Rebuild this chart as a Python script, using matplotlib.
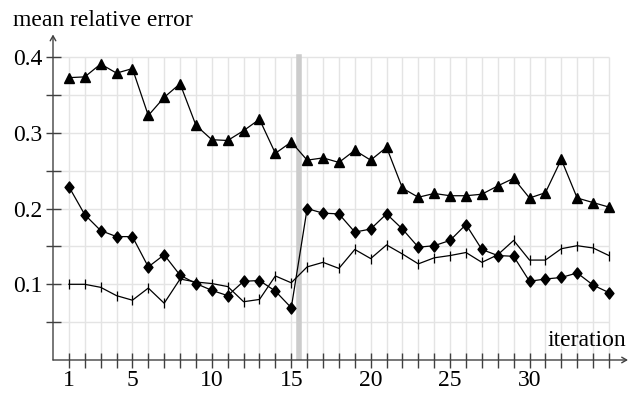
import matplotlib.pyplot as plt
import numpy as np
from matplotlib.path import Path

plt.rcParams["font.family"] = ["Liberation Serif", "DejaVu Serif"]

iteracoes = np.arange(1, 36)

erro_triangulo = [
    0.373, 0.374, 0.391, 0.379, 0.385, 0.323, 0.347, 0.365, 0.310, 0.291,
    0.290, 0.303, 0.318, 0.273, 0.288, 0.264, 0.267, 0.261, 0.277, 0.264,
    0.281, 0.227, 0.215, 0.220, 0.217, 0.217, 0.219, 0.230, 0.240, 0.214,
    0.221, 0.265, 0.214, 0.208, 0.202,
]
erro_losango = [
    0.229, 0.192, 0.171, 0.163, 0.163, 0.123, 0.139, 0.112, 0.101, 0.092,
    0.085, 0.104, 0.105, 0.091, 0.069, 0.200, 0.194, 0.193, 0.169, 0.173,
    0.193, 0.173, 0.149, 0.151, 0.158, 0.179, 0.146, 0.138, 0.137, 0.104,
    0.107, 0.109, 0.115, 0.099, 0.089,
]
erro_barra = [
    0.100, 0.100, 0.096, 0.085, 0.079, 0.095, 0.075, 0.107, 0.103, 0.101,
    0.097, 0.077, 0.080, 0.111, 0.102, 0.123, 0.129, 0.121, 0.146, 0.134,
    0.152, 0.140, 0.127, 0.135, 0.138, 0.142, 0.129, 0.139, 0.158, 0.132,
    0.132, 0.147, 0.151, 0.148, 0.138,
]

rotulos_x = [1, 5, 10, 15, 20, 25, 30]
ticks_y = [0.05, 0.1, 0.15, 0.2, 0.25, 0.3, 0.35, 0.4]
rotulos_y = [0.1, 0.2, 0.3, 0.4]
reinicio = 15.5

xmax, ymax = 36.2, 0.43
cor_eixo = "#404040"
cor_grade = "#e4e4e4"

## Losango um pouco mais estreito que alto (estilo pgfplots)
losango = Path([(0, 1), (0.8, 0), (0, -1), (-0.8, 0), (0, 1)],
               [Path.MOVETO, Path.LINETO, Path.LINETO, Path.LINETO, Path.CLOSEPOLY])

fig = plt.figure(figsize=(6.29, 3.93), dpi=100)
ax = fig.add_axes([53 / 629, 33 / 393, 575 / 629, 325.5 / 393])
ax.set_xlim(0, xmax)
ax.set_ylim(0, ymax)
for lado in ax.spines.values():
    lado.set_visible(False)

## Grade
ax.vlines(iteracoes, 0, ticks_y[-1], color=cor_grade, lw=1.0, zorder=0)
ax.hlines(ticks_y, 0, iteracoes[-1], color=cor_grade, lw=1.0, zorder=0)

## Faixa cinza
ax.axvline(reinicio, ymin=0, ymax=ticks_y[-1] / ymax, color="#cccccc", lw=4.0, zorder=1)

## Series
kw = dict(color="black", lw=0.9, zorder=3, clip_on=False)
ax.plot(iteracoes, erro_triangulo, marker="^", ms=7.4, **kw)
ax.plot(iteracoes, erro_losango, marker=losango, ms=8.0, **kw)
ax.plot(iteracoes, erro_barra, marker="|", ms=7.4, mew=0.9, **kw)

## Eixos com setas
seta = dict(arrowstyle="->,head_length=0.35,head_width=0.2", color=cor_eixo, lw=1.0,
            shrinkA=0, shrinkB=0)
ax.annotate("", xy=(xmax, 0), xytext=(0, 0), arrowprops=seta, annotation_clip=False)
ax.annotate("", xy=(0, ymax), xytext=(0, 0), arrowprops=seta, annotation_clip=False)

## Ticks
ax.set_xticks(iteracoes)
ax.set_xticklabels([str(i) if i in rotulos_x else "" for i in iteracoes])
ax.set_yticks(ticks_y)
ax.set_yticklabels([f"{v:.1f}" if any(abs(v - r) < 1e-9 for r in rotulos_y) else ""
                    for v in ticks_y])
ax.tick_params(direction="inout", length=10.8, width=1.0, color=cor_eixo,
               labelsize=17, labelcolor="black")
ax.tick_params(axis="x", pad=2)
ax.tick_params(axis="y", pad=2)

## Titulos dos eixos
fig.text(13 / 629, 1 - 26 / 393, "mean relative error", fontsize=17, ha="left",
         va="baseline")
fig.text(626 / 629, 1 - 346 / 393, "iteration", fontsize=17, ha="right", va="baseline")

fig.savefig("out.png", dpi=100)
